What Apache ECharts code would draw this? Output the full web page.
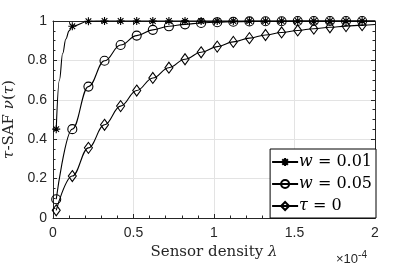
<!DOCTYPE html>
<html><head><meta charset="utf-8">
<script src="https://cdn.jsdelivr.net/npm/echarts@6/dist/echarts.min.js"></script>
<style>html,body{margin:0;padding:0;background:#fff}#c{width:415px;height:268px}</style>
</head><body><div id="c"></div>
<script>
// Sensor density (x 1e-4) at marker positions
var lambda = [0.02,0.12,0.22,0.32,0.42,0.52,0.62,0.72,0.82,0.92,1.02,1.12,1.22,1.32,1.42,1.52,1.62,1.72,1.82,1.92];
var starVals = [0.451,0.973,0.999,1,1,1,1,1,1,1,1,1,1,1,1,1,1,1,1,1];
var circleVals = [0.095,0.451,0.667,0.798,0.878,0.926,0.955,0.973,0.983,0.990,0.994,0.996,0.998,0.999,0.999,1,1,1,1,1];
var diamondVals = [0.039,0.213,0.356,0.473,0.568,0.647,0.711,0.763,0.806,0.841,0.870,0.894,0.913,0.929,0.942,0.952,0.961,0.968,0.974,0.979];
// unmarked curve points (line only)
var starExtraX = [0.04,0.06,0.08,0.10,2.0];
var starExtraY = [0.70,0.835,0.909,0.950,1];
var circleExtraX = [2.0], circleExtraY = [1];
var diamondExtraX = [2.0], diamondExtraY = [0.982];
var names = ['w = 0.01','w = 0.05','τ = 0'];
var xTicks = ['0','0.5','1','1.5','2'];
var yTicks = ['0','0.2','0.4','0.6','0.8','1'];

function build(vals, ex, ey){
  var pts = lambda.map(function(x,i){return {value:[x,vals[i]]};});
  ex.forEach(function(x,i){pts.push({value:[x,ey[i]], symbol:'none'});});
  pts.sort(function(a,b){return a.value[0]-b.value[0];});
  return pts;
}
var starPath = 'path://M0,-10L0,10M-10,0L10,0M-7.07,-7.07L7.07,7.07M-7.07,7.07L7.07,-7.07';
var diamondPath = 'path://M0,-7L5,0L0,7L-5,0Z';
var tickFont = {fontFamily:'Liberation Sans', fontSize:14, color:'#262626'};
var serif = 'DejaVu Serif';

function mkSeries(name, data, symbol, size){
  return {
    name:name, type:'line', data:data, smooth:0.4, smoothMonotone:'x',
    symbol:symbol, symbolSize:size, showAllSymbol:true, clip:false,
    lineStyle:{color:'#000', width:1.1},
    itemStyle:{color:'rgba(255,255,255,0)', borderColor:'#000', borderWidth:1.1},
    emphasis:{disabled:true}, animation:false
  };
}

var chart = echarts.init(document.getElementById('c'), null, {renderer:'canvas'});
var axBase = {
  type:'value', axisLine:{show:true, onZero:false, lineStyle:{color:'#262626', width:1}},
  axisTick:{show:true, inside:true, length:4, lineStyle:{color:'#262626'}},
  minorTick:{show:true, length:2.5, lineStyle:{color:'#262626'}},
  splitLine:{show:false}
};
chart.setOption({
  animation:false,
  backgroundColor:'#fff',
  grid:{left:53, right:40, top:21, bottom:50, containLabel:false, outerBoundsMode:'none'},
  xAxis:[
    Object.assign({}, axBase, {min:0, max:2, interval:0.5, position:'bottom',
      minorTick:{show:true, splitNumber:5, length:2.5, lineStyle:{color:'#262626'}},
      splitLine:{show:true, lineStyle:{color:'#e3e3e3', width:1}},
      axisLabel:Object.assign({margin:8, formatter:function(v){return xTicks[Math.round(v/0.5)];}}, tickFont),
      name:'Sensor density {i|λ}', nameLocation:'middle', nameGap:25,
      nameTextStyle:{fontFamily:serif, fontSize:15, color:'#262626', rich:{i:{fontFamily:serif, fontStyle:'italic', fontSize:15}}}}),
    Object.assign({}, axBase, {min:0, max:2, interval:0.5, position:'top',
      minorTick:{show:true, splitNumber:5, length:2.5, lineStyle:{color:'#262626'}},
      axisLabel:{show:false}})
  ],
  yAxis:[
    Object.assign({}, axBase, {min:0, max:1, interval:0.2, position:'left',
      minorTick:{show:true, splitNumber:4, length:2.5, lineStyle:{color:'#262626'}},
      splitLine:{show:true, lineStyle:{color:'#e3e3e3', width:1}},
      axisLabel:Object.assign({margin:6, formatter:function(v){return yTicks[Math.round(v/0.2)];}}, tickFont),
      name:'{i|τ}-SAF {i|ν}({i|τ})', nameLocation:'middle', nameGap:29, nameRotate:90,
      nameTextStyle:{fontFamily:serif, fontSize:15, color:'#262626', rich:{i:{fontFamily:serif, fontStyle:'italic', fontSize:15}}}}),
    Object.assign({}, axBase, {min:0, max:1, interval:0.2, position:'right',
      minorTick:{show:true, splitNumber:4, length:2.5, lineStyle:{color:'#262626'}},
      axisLabel:{show:false}})
  ],
  legend:{
    orient:'vertical', right:39, bottom:50, itemWidth:26, itemHeight:10, itemGap:6,
    padding:[5,4,4,1], backgroundColor:'#fff', borderColor:'#000', borderWidth:1, borderRadius:0,
    data:names,
    formatter:function(n){
      if(n===names[0]) return '{i|w} = 0.01';
      if(n===names[1]) return '{i|w} = 0.05';
      return '{i|τ} = 0';
    },
    textStyle:{fontFamily:serif, fontSize:16, color:'#000', padding:[0,0,0,-4], rich:{i:{fontFamily:serif, fontStyle:'italic', fontSize:16}}},
    selectedMode:false
  },
  graphic:[{type:'text', left:336, top:250, style:{text:'×10{s|-4}', fontFamily:'Liberation Sans', fontSize:13, fill:'#262626',
    rich:{s:{fontSize:10, verticalAlign:'top', padding:[0,0,8,0], fontFamily:'Liberation Sans', fill:'#262626'}}}}],
  series:[
    mkSeries(names[0], build(starVals, starExtraX, starExtraY), starPath, 8),
    mkSeries(names[1], build(circleVals, circleExtraX, circleExtraY), 'circle', 9),
    mkSeries(names[2], build(diamondVals, diamondExtraX, diamondExtraY), diamondPath, [8,11])
  ]
});
</script></body></html>
